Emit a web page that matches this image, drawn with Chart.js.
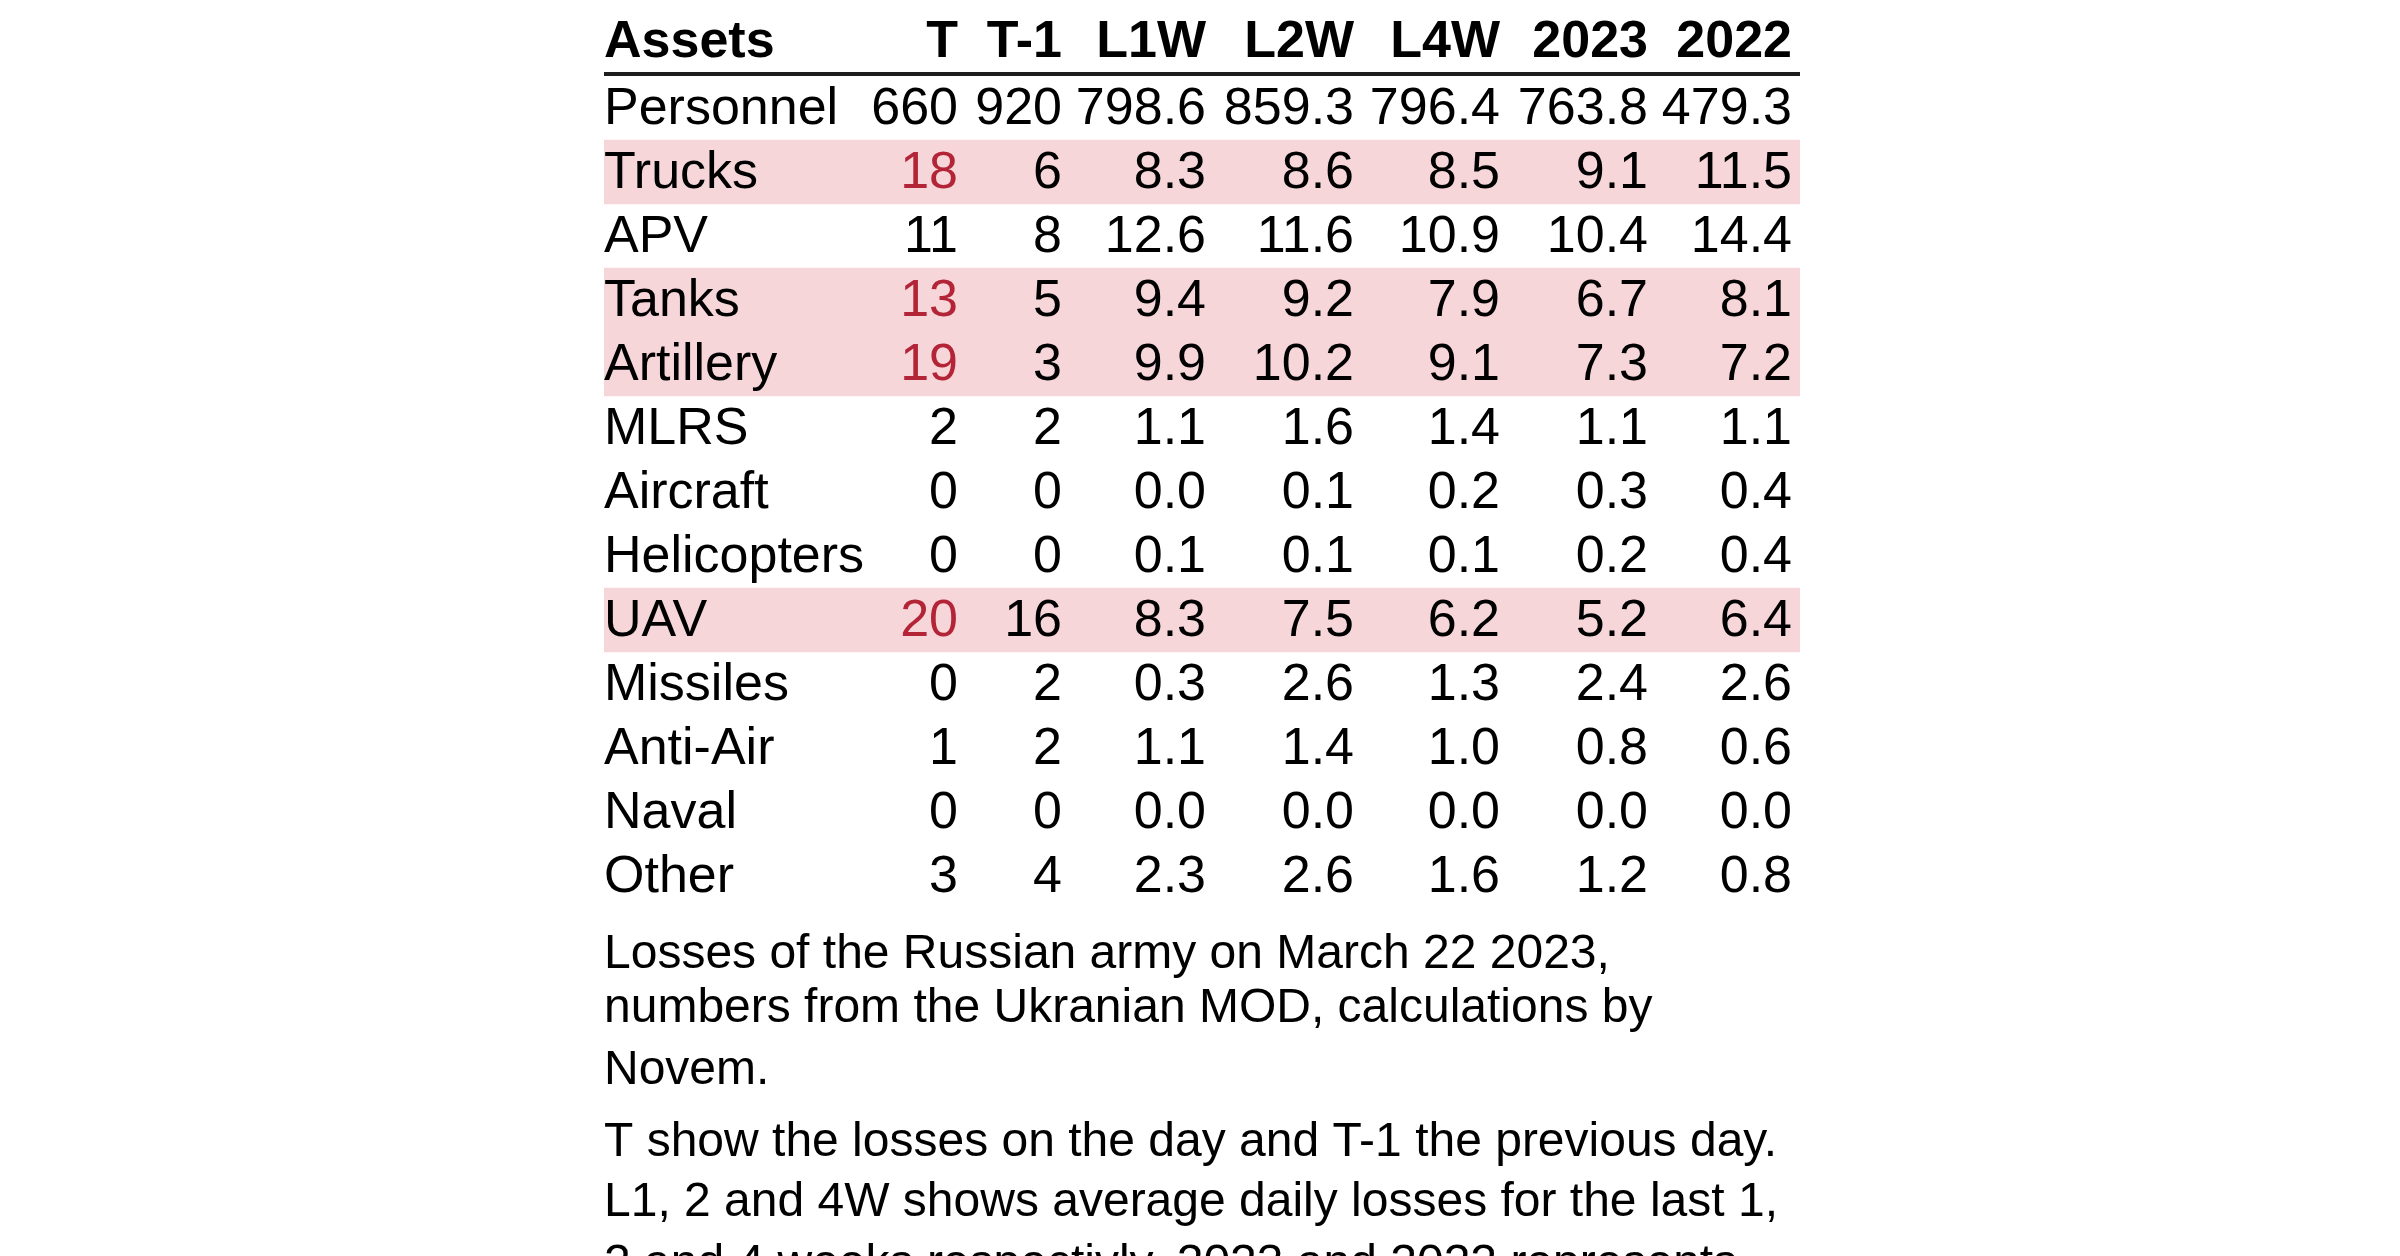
<!DOCTYPE html>
<html>
<head>
<meta charset="utf-8">
<title>Losses of the Russian army</title>
<script src="https://cdn.jsdelivr.net/npm/chart.js@4"></script>
<style>
  html, body { margin: 0; padding: 0; background: #ffffff; }
  #wrap { width: 2400px; height: 1256px; overflow: hidden; }
  canvas { display: block; }
</style>
</head>
<body>
<div id="wrap"><canvas id="c" width="2400" height="1256"></canvas></div>
<script>
// ---------- DATA ----------
const columns = ["Assets", "T", "T-1", "L1W", "L2W", "L4W", "2023", "2022"];
const assets = ["Personnel", "Trucks", "APV", "Tanks", "Artillery", "MLRS", "Aircraft",
                "Helicopters", "UAV", "Missiles", "Anti-Air", "Naval", "Other"];
const T     = [660, 18, 11, 13, 19, 2, 0, 0, 20, 0, 1, 0, 3];
const T1    = [920, 6, 8, 5, 3, 2, 0, 0, 16, 2, 2, 0, 4];
const L1W   = [798.6, 8.3, 12.6, 9.4, 9.9, 1.1, 0.0, 0.1, 8.3, 0.3, 1.1, 0.0, 2.3];
const L2W   = [859.3, 8.6, 11.6, 9.2, 10.2, 1.6, 0.1, 0.1, 7.5, 2.6, 1.4, 0.0, 2.6];
const L4W   = [796.4, 8.5, 10.9, 7.9, 9.1, 1.4, 0.2, 0.1, 6.2, 1.3, 1.0, 0.0, 1.6];
const Y2023 = [763.8, 9.1, 10.4, 6.7, 7.3, 1.1, 0.3, 0.2, 5.2, 2.4, 0.8, 0.0, 1.2];
const Y2022 = [479.3, 11.5, 14.4, 8.1, 7.2, 1.1, 0.4, 0.4, 6.4, 2.6, 0.6, 0.0, 0.8];
const highlighted = ["Trucks", "Tanks", "Artillery", "UAV"];
const noteParagraph1 = ["Losses of the Russian army on March 22 2023,",
                        "numbers from the Ukranian MOD, calculations by",
                        "Novem."];
const noteParagraph2 = ["T show the losses on the day and T-1 the previous day.",
                        "L1, 2 and 4W shows average daily losses for the last 1,",
                        "2 and 4 weeks respectivly. 2023 and 2022 represents"];

// ---------- LAYOUT / STYLE ----------
const FONT = 'Arial, "Liberation Sans", "Helvetica Neue", Helvetica, sans-serif';
const TABLE_W = 1196;                 // width of the table in scale units (px)
const colRight = [null, 354, 458, 602, 750, 896, 1044, 1188]; // right edge of each numeric column
const decimals = [null, 0, 0, 1, 1, 1, 1, 1];
const HILITE = "rgb(247,214,218)";
const RED = "rgb(178,36,54)";
const INK = "#000000";

const valueCols = [null, T, T1, L1W, L2W, L4W, Y2023, Y2022];

const tablePlugin = {
  id: "tableText",
  afterDatasetsDraw(chart) {
    const ctx = chart.ctx;
    const xs = chart.scales.x, ys = chart.scales.y;
    const left = xs.getPixelForValue(0);
    const right = xs.getPixelForValue(TABLE_W);
    const top = chart.chartArea.top;
    ctx.save();

    // header rule
    ctx.fillStyle = "#1e1e1e";
    ctx.fillRect(left, top - 4, right - left, 4);

    // header labels
    ctx.textBaseline = "alphabetic";
    ctx.font = "bold 52px " + FONT;
    ctx.fillStyle = INK;
    const headY = top - 19;
    ctx.textAlign = "left";
    ctx.fillText(columns[0], left, headY);
    ctx.textAlign = "right";
    for (let j = 1; j < columns.length; j++) {
      ctx.fillText(columns[j], xs.getPixelForValue(colRight[j]), headY);
    }

    // body cells
    ctx.font = "52px " + FONT;
    assets.forEach((name, i) => {
      const yb = ys.getPixelForValue(i) + 16;
      const hl = highlighted.includes(name);
      ctx.textAlign = "left";
      ctx.fillStyle = INK;
      ctx.fillText(name, left, yb);
      ctx.textAlign = "right";
      for (let j = 1; j < columns.length; j++) {
        const v = valueCols[j][i];
        ctx.fillStyle = (j === 1 && hl) ? RED : INK;
        ctx.fillText(v.toFixed(decimals[j]), xs.getPixelForValue(colRight[j]), yb);
      }
    });

    // notes
    ctx.font = "48px " + FONT;
    ctx.fillStyle = INK;
    ctx.textAlign = "left";
    const bottom = chart.chartArea.bottom;
    const p1 = [60, 114, 176];
    const p2 = [248, 308, 370];
    noteParagraph1.forEach((t, k) => ctx.fillText(t, left, bottom + p1[k]));
    noteParagraph2.forEach((t, k) => ctx.fillText(t, left, bottom + p2[k]));

    ctx.restore();
  }
};

new Chart(document.getElementById("c"), {
  type: "bar",
  data: {
    labels: assets,
    datasets: [{
      label: "highlight",
      data: assets.map(a => highlighted.includes(a) ? [0, TABLE_W] : null),
      backgroundColor: HILITE,
      borderWidth: 0,
      barPercentage: 1.0,
      categoryPercentage: 1.0
    }]
  },
  options: {
    indexAxis: "y",
    responsive: false,
    maintainAspectRatio: false,
    devicePixelRatio: 1,
    animation: false,
    layout: { padding: { left: 604, right: 600, top: 76, bottom: 348 } },
    plugins: { legend: { display: false }, tooltip: { enabled: false }, title: { display: false } },
    scales: {
      x: { type: "linear", min: 0, max: TABLE_W, display: false, grid: { display: false } },
      y: { type: "category", display: false, offset: true, grid: { display: false } }
    }
  },
  plugins: [tablePlugin]
});
</script>
</body>
</html>
